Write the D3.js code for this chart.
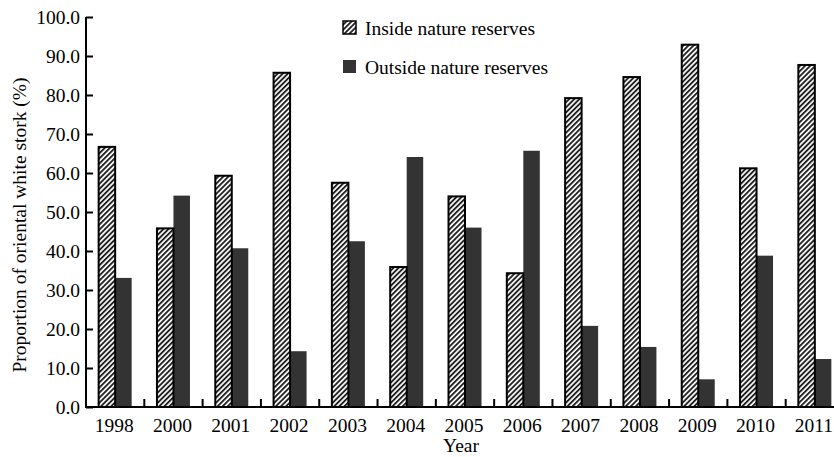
<!DOCTYPE html>
<html>
<head>
<meta charset="utf-8">
<script src="https://cdn.jsdelivr.net/npm/d3@7"></script>
<style>
  html, body { margin: 0; padding: 0; background: #fff; }
  svg { display: block; }
  text { font-family: "Liberation Serif", "Times New Roman", serif; fill: #000; }
</style>
</head>
<body>
<svg id="chart" width="834" height="457"></svg>
<script>
const years = ["1998","2000","2001","2002","2003","2004","2005","2006","2007","2008","2009","2010","2011"];
const insideValues = [66.7, 45.8, 59.3, 85.7, 57.5, 35.9, 54.0, 34.3, 79.2, 84.6, 92.9, 61.2, 87.7];
const outsideValues = [33.1, 54.2, 40.7, 14.3, 42.5, 64.1, 46.0, 65.7, 20.8, 15.4, 7.1, 38.8, 12.3];
const seriesNames = ["Inside nature reserves", "Outside nature reserves"];
const yTicks = [0, 10, 20, 30, 40, 50, 60, 70, 80, 90, 100];

const svg = d3.select("#chart");
const fontSize = 19.5;

const defs = svg.append("defs");
const pat = defs.append("pattern")
  .attr("id", "hatch")
  .attr("patternUnits", "userSpaceOnUse")
  .attr("width", 3.6).attr("height", 3.6)
  .attr("patternTransform", "rotate(45)");
pat.append("rect").attr("width", 3.6).attr("height", 3.6).attr("fill", "#fff");
pat.append("rect").attr("x", 0).attr("width", 1.9).attr("height", 3.6).attr("fill", "#222");

const x0 = d3.scaleBand().domain(years).range([86, 844]).padding(0);
const groupW = 33;
const x1 = d3.scaleBand().domain(seriesNames).range([0, groupW]).padding(0);
const y = d3.scaleLinear().domain([0, 100]).range([407, 17]);

const data = years.map((yr, i) => ({ year: yr, vals: [insideValues[i], outsideValues[i]] }));

const groups = svg.append("g").selectAll("g").data(data).join("g")
  .attr("transform", d => `translate(${x0(d.year) + (x0.bandwidth() - groupW) / 2},0)`);

// outside (dark) bars
groups.append("rect")
  .attr("x", x1(seriesNames[1]))
  .attr("width", x1.bandwidth())
  .attr("y", d => y(d.vals[1]))
  .attr("height", d => y(0) - y(d.vals[1]))
  .attr("fill", "#333");

// inside (hatched) bars
groups.append("rect")
  .attr("x", x1(seriesNames[0]))
  .attr("width", x1.bandwidth())
  .attr("y", d => y(d.vals[0]))
  .attr("height", d => y(0) - y(d.vals[0]))
  .attr("fill", "url(#hatch)")
  .attr("stroke", "#000")
  .attr("stroke-width", 2);

// Y axis
const yAxis = d3.axisRight(y).tickValues(yTicks).tickSize(7).tickFormat(d => d.toFixed(1));
const gy = svg.append("g").attr("transform", "translate(86,0)").call(yAxis);
gy.select(".domain").attr("stroke", "#000").attr("stroke-width", 2).attr("d", `M0,${y(100)}V${y(0)}`);
gy.selectAll(".tick line").attr("stroke", "#000").attr("stroke-width", 2);
gy.selectAll(".tick text")
  .attr("x", -6).attr("text-anchor", "end")
  .attr("font-size", fontSize)
  .attr("font-family", "Liberation Serif, Times New Roman, serif")
  .attr("fill", "#000");

// X axis: line + boundary ticks pointing up
const gx = svg.append("g");
gx.append("line").attr("x1", 85).attr("x2", 834).attr("y1", y(0)).attr("y2", y(0))
  .attr("stroke", "#000").attr("stroke-width", 2);
gx.selectAll("line.bt").data(years.slice(1)).join("line").attr("class", "bt")
  .attr("x1", d => x0(d)).attr("x2", d => x0(d))
  .attr("y1", y(0)).attr("y2", y(0) - 8)
  .attr("stroke", "#000").attr("stroke-width", 2);
gx.selectAll("text").data(years).join("text")
  .attr("x", d => x0(d) + x0.bandwidth() / 2 - 1)
  .attr("y", 432)
  .attr("text-anchor", "middle")
  .attr("font-size", fontSize)
  .text(d => d);

// axis titles
svg.append("text")
  .attr("x", 461).attr("y", 452)
  .attr("text-anchor", "middle")
  .attr("font-size", fontSize)
  .text("Year");
svg.append("text")
  .attr("transform", "translate(26,225) rotate(-90)")
  .attr("text-anchor", "middle")
  .attr("font-size", fontSize)
  .text("Proportion of oriental white stork (%)");

// legend
const legend = svg.append("g");
const legY = [21, 60];
legend.append("rect").attr("x", 343).attr("y", legY[0]).attr("width", 13).attr("height", 13)
  .attr("fill", "url(#hatch)").attr("stroke", "#000").attr("stroke-width", 1.5);
legend.append("rect").attr("x", 343).attr("y", legY[1]).attr("width", 13).attr("height", 13)
  .attr("fill", "#333");
legend.selectAll("text").data(seriesNames).join("text")
  .attr("x", 365)
  .attr("y", (d, i) => legY[i] + 14)
  .attr("font-size", fontSize)
  .text(d => d);
</script>
</body>
</html>
